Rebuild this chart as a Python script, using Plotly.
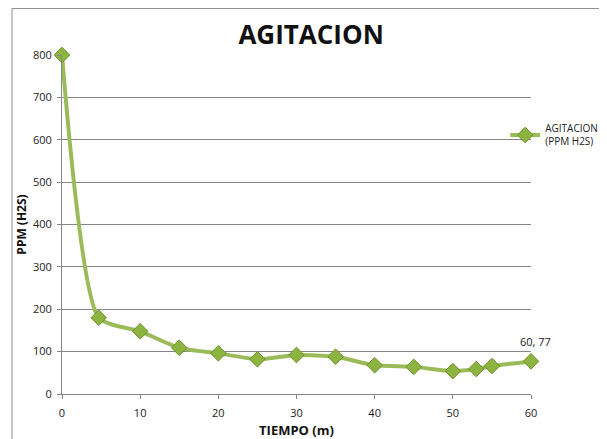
import plotly.graph_objects as go

tiempo = [0, 4.7, 10, 15, 20, 25, 30, 35, 40, 45, 50, 53, 55, 60]
ppm = [800, 180, 148, 109, 96, 82, 92, 88, 68, 64, 54, 59, 66, 77]
x_ticks = [0, 10, 20, 30, 40, 50, 60]
y_ticks = [0, 100, 200, 300, 400, 500, 600, 700, 800]

fig = go.Figure()
fig.add_trace(go.Scatter(
    x=tiempo, y=ppm,
    mode="lines+markers",
    name="AGITACION<br>(PPM H2S)",
    line=dict(color="#9BBB59", width=4, shape="spline", smoothing=0.6),
    marker=dict(symbol="diamond", size=12, color="#8DB440",
                line=dict(color="#6E8F2E", width=1)),
    cliponaxis=False,
))

# page body has an 8px margin, so the figure is sized/shifted accordingly
fig.update_layout(
    width=599, height=431,
    margin=dict(l=54, r=76, t=47, b=45, autoexpand=False),
    paper_bgcolor="white", plot_bgcolor="white",
    font=dict(family="Open Sans", size=11, color="#222"),
    title=dict(text="<b>AGITACION</b>", x=0.506, xanchor="center",
               y=0.937, yanchor="middle",
               font=dict(family="Open Sans", size=26, color="#111")),
    showlegend=True,
    legend=dict(x=0.945, y=0.764, xanchor="left", yanchor="middle",
                bgcolor="rgba(0,0,0,0)", font=dict(size=10, color="#222"),
                itemwidth=30),
    xaxis=dict(range=[0, 60], tickvals=x_ticks, showgrid=False,
               showline=True, linecolor="#868686", linewidth=1,
               ticks="outside", ticklen=4, tickcolor="#868686",
               ticklabelstandoff=5,
               zeroline=False, automargin=False,
               title=dict(text="<b>TIEMPO (m)</b>", standoff=13,
                          font=dict(size=13, color="#111"))),
    yaxis=dict(range=[0, 800], tickvals=y_ticks, showgrid=True,
               gridcolor="#868686", gridwidth=1,
               showline=True, linecolor="#868686", linewidth=1,
               ticks="outside", ticklen=4, tickcolor="#868686",
               ticklabelstandoff=3,
               zeroline=False, automargin=False,
               title=dict(text="<b>PPM (H2S)</b>", standoff=3,
                          font=dict(size=12, color="#111"))),
    annotations=[dict(x=tiempo[-1], y=ppm[-1], xref="x", yref="y",
                      text=f"{tiempo[-1]}, {ppm[-1]}", showarrow=False,
                      xshift=4, yshift=20,
                      font=dict(size=11, color="#222"))],
    shapes=[dict(type="rect", xref="paper", yref="paper",
                 x0=-0.1066, x1=1.2, y0=-0.2, y1=1.137,
                 line=dict(color="#8c8c8c", width=1), layer="below")],
)

fig.write_html("out.html")
